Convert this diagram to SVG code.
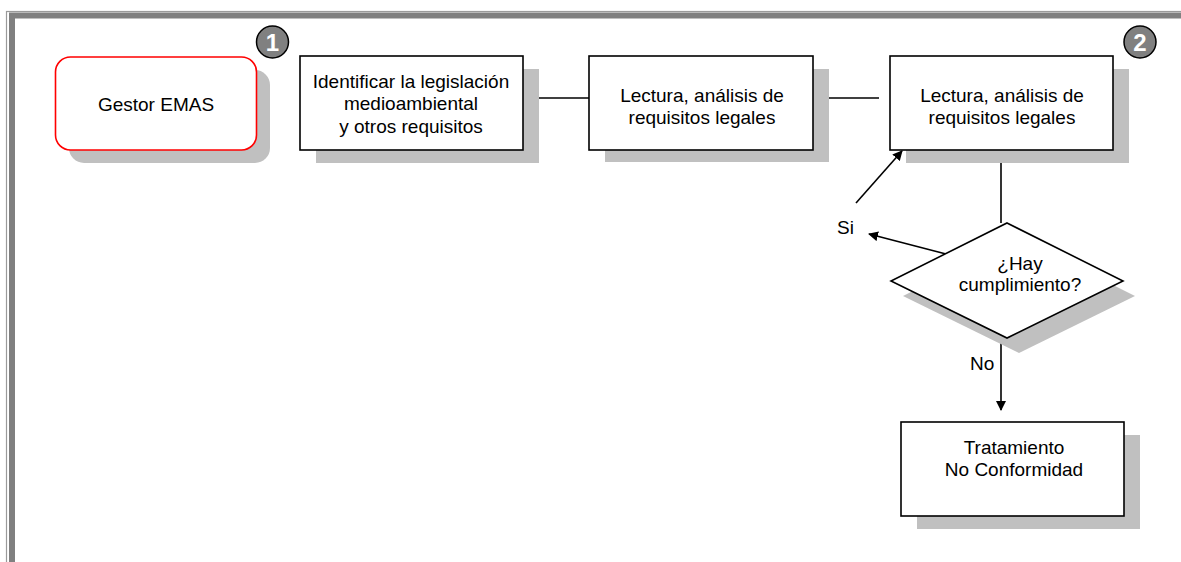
<svg xmlns="http://www.w3.org/2000/svg" width="1181" height="562" viewBox="0 0 1181 562">
<defs>
<style>
.box{fill:#fff;stroke:#000;stroke-width:1.6}
.sh{fill:#c0c0c0;stroke:none}
.t{font-family:"Liberation Sans",Arial,sans-serif;font-size:19px;fill:#000;text-anchor:middle}
.tl{font-family:"Liberation Sans",Arial,sans-serif;font-size:19px;fill:#000}
.num{font-family:"Liberation Sans",Arial,sans-serif;font-size:24px;font-weight:bold;fill:#fff;text-anchor:middle}
.badge{fill:#808080;stroke:#000;stroke-width:1.5}
.ln{stroke:#000;stroke-width:1.6;fill:none}
</style>
<marker id="ah" viewBox="0 0 10 10" refX="9" refY="5" markerWidth="10" markerHeight="10" markerUnits="userSpaceOnUse" orient="auto">
<path d="M0,0 L10,5 L0,10 z" fill="#000"/>
</marker>
</defs>
<rect width="1181" height="562" fill="#fff"/>
<g id="frame">
<rect x="6.5" y="11.5" width="1200" height="600" fill="none" stroke="#9a9a9a" stroke-width="1.2"/>
<rect x="12" y="15.5" width="1200" height="600" fill="none" stroke="#808080" stroke-width="6"/>
</g>
<g id="badge1">
<circle class="badge" cx="272.5" cy="42" r="16"/>
<text class="num" x="272.5" y="51">1</text>
</g>
<g id="badge2">
<circle class="badge" cx="1140" cy="42" r="16"/>
<text class="num" x="1140" y="51">2</text>
</g>
<g id="connectors">
<path d="M523,98 L589,98" class="ln"/>
<path d="M524,97 q3,-6 6,0" fill="none" stroke="#999" stroke-width="1"/>
<path d="M813,98 L879,98" class="ln"/>
<path d="M1001,150 L1001,223" class="ln"/>
<path d="M946,254 L869,234" class="ln" marker-end="url(#ah)"/>
<path d="M856,203 L902,151" class="ln" marker-end="url(#ah)"/>
<path d="M1001,338 L1001,410" class="ln" marker-end="url(#ah)"/>
</g>
<g id="gestor">
<rect class="sh" x="69" y="70" width="201" height="93" rx="15"/>
<rect x="55.5" y="57" width="201" height="93" rx="15" fill="#fff" stroke="#ff0000" stroke-width="1.6"/>
<text class="t" x="156" y="111">Gestor EMAS</text>
</g>
<g id="identificar">
<rect class="sh" x="316" y="69" width="223" height="94"/>
<rect class="box" x="300" y="56" width="223" height="94"/>
<text class="t" x="411" y="88">Identificar la legislación</text>
<text class="t" x="411" y="110">medioambiental</text>
<text class="t" x="411" y="133">y otros requisitos</text>
</g>
<g id="lectura1">
<rect class="sh" x="605" y="69" width="224" height="93"/>
<rect class="box" x="589" y="56" width="224" height="94"/>
<text class="t" x="702" y="102">Lectura, análisis de</text>
<text class="t" x="702" y="124">requisitos legales</text>
</g>
<g id="lectura2">
<rect class="sh" x="906" y="69" width="223" height="94"/>
<rect class="box" x="890" y="56" width="223" height="94"/>
<text class="t" x="1002" y="102">Lectura, análisis de</text>
<text class="t" x="1002" y="124">requisitos legales</text>
</g>
<g id="decision">
<polygon class="sh" points="1019,238 1135,296 1019,353 903,296"/>
<polygon class="box" points="1007,223 1123,281 1007,338 891,281"/>
<text class="t" x="1020" y="270">¿Hay</text>
<text class="t" x="1020" y="291">cumplimiento?</text>
</g>
<g id="labels">
<text class="tl" x="837" y="234">Si</text>
<text class="tl" x="970" y="370">No</text>
</g>
<g id="tratamiento">
<rect class="sh" x="917" y="435" width="223" height="94"/>
<rect class="box" x="901" y="422" width="223" height="94"/>
<text class="t" x="1014" y="454">Tratamiento</text>
<text class="t" x="1014" y="476">No Conformidad</text>
</g>
</svg>
